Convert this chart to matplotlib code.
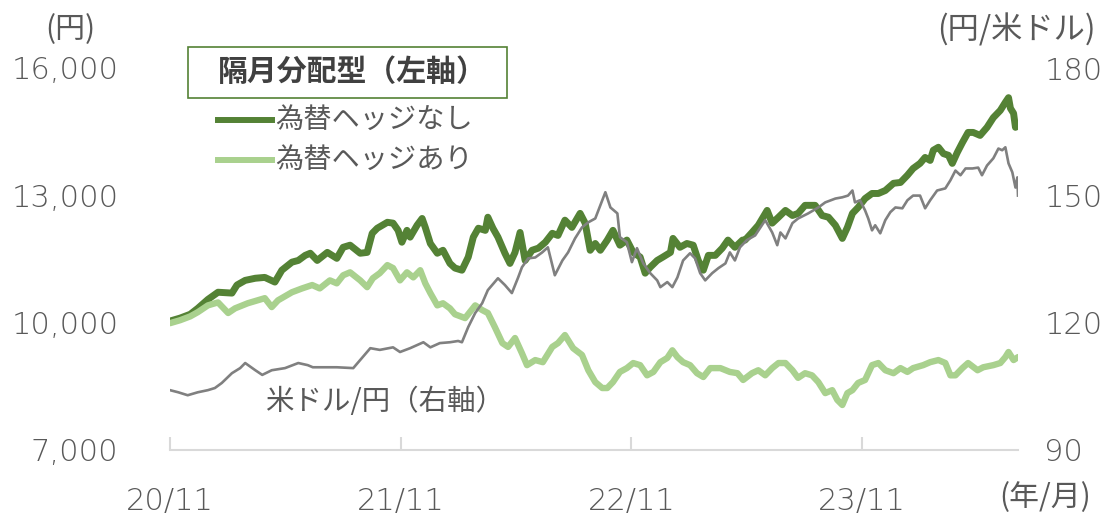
import matplotlib
matplotlib.use("Agg")
import matplotlib.pyplot as plt
from matplotlib.patches import Rectangle
from matplotlib.lines import Line2D

plt.rcParams['font.family'] = ['Noto Sans CJK JP', 'DejaVu Sans']

# ---- data (days since 2020-11-01) ----
x_tick_days = [0, 365, 730, 1095]
x_tick_labels = ["20/11", "21/11", "22/11", "23/11"]
left_ticks = [7000, 10000, 13000, 16000]
right_ticks = [90, 120, 150, 180]

hedge_off_days = [0, 16, 32, 44, 60, 76, 98, 106, 119, 135, 150, 166, 177, 193, 203, 214, 222, 233, 249, 264,
                  274, 285, 301, 312, 320, 328, 344, 353, 361, 367, 375, 380, 391, 399, 404, 412, 423, 432, 443, 451,
                  462, 472, 480, 488, 499, 503, 511, 519, 530, 538, 546, 554, 562, 573, 583, 594, 605, 614, 625, 636,
                  649, 657, 665, 673, 681, 692, 701, 712, 723, 733, 744, 752, 760, 771, 780, 792, 796, 807, 818, 828,
                  836, 844, 852, 863, 874, 883, 894, 906, 910, 921, 931, 945, 953, 963, 974, 985, 994, 1005, 1021, 1032,
                  1042, 1053, 1064, 1072, 1080, 1089, 1100, 1111, 1121, 1132, 1145, 1156, 1167, 1176, 1187, 1195, 1203, 1208, 1216, 1224,
                  1232, 1238, 1246, 1254, 1263, 1271, 1282, 1293, 1303, 1314, 1322, 1327, 1330, 1335, 1338, 1342]
hedge_off_values = [10030, 10100, 10190, 10330, 10540, 10710, 10690, 10880, 10990, 11040, 11060, 10950, 11230, 11420, 11460, 11580, 11630, 11460, 11650, 11510,
                    11770, 11820, 11630, 11650, 12100, 12220, 12360, 12340, 12170, 11890, 12170, 12010, 12290, 12450, 12240, 11860, 11630, 11700, 11390, 11280,
                    11230, 11540, 12010, 12220, 12170, 12480, 12220, 12010, 11630, 11390, 11650, 12120, 11460, 11700, 11750, 11890, 12100, 12050, 12410, 12240,
                    12570, 12340, 11700, 11860, 11700, 11940, 12170, 11820, 11940, 11650, 11540, 11160, 11300, 11460, 11540, 11650, 11980, 11770, 11860, 11820,
                    11460, 11230, 11580, 11580, 11750, 11940, 11770, 11940, 11940, 12120, 12290, 12640, 12340, 12480, 12640, 12520, 12570, 12760, 12760, 12520,
                    12480, 12290, 11980, 12240, 12570, 12710, 12920, 13040, 13040, 13110, 13280, 13300, 13470, 13630, 13750, 13890, 13820, 14060, 14130, 13980,
                    13940, 13750, 14010, 14240, 14480, 14480, 14410, 14600, 14830, 15000, 15190, 15300, 15050, 14930, 14600, 14640]

hedge_on_days = [0, 16, 32, 44, 60, 76, 92, 103, 123, 150, 161, 171, 193, 209, 225, 237, 253, 264, 274, 285,
                 301, 312, 321, 332, 344, 353, 364, 375, 385, 396, 404, 412, 423, 432, 443, 451, 467, 483, 494, 503,
                 514, 526, 535, 546, 557, 565, 578, 590, 605, 614, 625, 638, 652, 662, 673, 684, 692, 701, 712, 723,
                 733, 744, 755, 765, 776, 787, 795, 803, 812, 823, 834, 844, 855, 871, 886, 898, 907, 921, 931, 942,
                 953, 963, 974, 985, 994, 1005, 1016, 1026, 1037, 1048, 1056, 1064, 1072, 1080, 1089, 1100, 1111, 1121, 1132, 1145,
                 1156, 1167, 1176, 1192, 1203, 1216, 1227, 1235, 1243, 1254, 1263, 1278, 1287, 1303, 1314, 1322, 1327, 1335, 1342]
hedge_on_values = [9980, 10050, 10140, 10240, 10400, 10470, 10220, 10330, 10450, 10570, 10360, 10520, 10710, 10800, 10880, 10800, 10990, 10920, 11110, 11180,
                   10990, 10830, 11040, 11160, 11350, 11280, 10990, 11180, 11060, 11230, 10920, 10690, 10400, 10450, 10330, 10190, 10100, 10400, 10290, 10220,
                   9890, 9510, 9420, 9630, 9270, 8990, 9110, 9060, 9420, 9510, 9700, 9390, 9230, 8870, 8590, 8450, 8450, 8590, 8830, 8920,
                   9040, 8990, 8750, 8830, 9060, 9160, 9340, 9180, 9060, 8990, 8800, 8710, 8920, 8920, 8830, 8800, 8640, 8800, 8870, 8750,
                   8920, 9040, 9040, 8870, 8690, 8800, 8750, 8590, 8330, 8400, 8170, 8050, 8330, 8400, 8570, 8640, 8990, 9040, 8870, 8800,
                   8920, 8830, 8920, 8990, 9060, 9110, 9040, 8750, 8750, 8920, 9040, 8870, 8940, 8990, 9040, 9180, 9300, 9110, 9180]

usdjpy_days = [0, 13, 28, 44, 60, 71, 82, 98, 111, 119, 135, 146, 161, 182, 203, 218, 226, 242, 264, 290,
               301, 317, 332, 353, 364, 380, 401, 412, 427, 443, 456, 462, 472, 483, 494, 503, 519, 530, 541, 551,
               557, 567, 578, 589, 598, 609, 621, 630, 641, 652, 662, 673, 681, 689, 697, 708, 712, 723, 731, 739,
               749, 760, 771, 776, 787, 795, 803, 812, 823, 831, 839, 847, 858, 868, 879, 886, 894, 902, 913, 926,
               942, 953, 961, 966, 974, 985, 994, 1010, 1026, 1037, 1053, 1064, 1073, 1080, 1084, 1092, 1100, 1105, 1111, 1116,
               1124, 1132, 1140, 1148, 1159, 1167, 1176, 1187, 1195, 1203, 1214, 1227, 1235, 1243, 1251, 1259, 1270, 1279, 1285, 1293,
               1303, 1311, 1317, 1322, 1327, 1333, 1338, 1341, 1342]
usdjpy_values = [104.0, 103.5, 102.8, 103.5, 104.0, 104.5, 105.7, 108.0, 109.2, 110.4, 108.7, 107.6, 108.7, 109.2, 110.4, 109.9, 109.4, 109.4, 109.4, 109.2,
                 111.1, 113.9, 113.5, 114.1, 113.0, 113.9, 115.3, 114.1, 115.1, 115.3, 115.6, 115.3, 118.9, 122.2, 124.5, 127.6, 130.4, 128.8, 126.9, 130.6,
                 133.0, 135.1, 135.3, 136.5, 137.7, 131.1, 134.6, 136.5, 139.8, 142.4, 143.6, 144.5, 147.6, 150.7, 147.1, 145.7, 140.1, 138.9, 134.2, 137.5,
                 133.9, 131.6, 129.9, 128.3, 129.5, 128.3, 130.6, 134.6, 136.3, 135.1, 131.6, 129.9, 131.6, 132.8, 133.9, 136.5, 134.6, 137.7, 139.4, 140.5,
                 144.1, 141.2, 138.2, 141.2, 139.8, 143.4, 144.5, 145.7, 147.1, 148.3, 149.2, 149.5, 149.9, 151.1, 148.3, 148.8, 146.4, 144.5, 141.7, 142.9,
                 141.0, 144.1, 146.0, 147.1, 146.9, 148.8, 149.9, 149.9, 146.9, 148.8, 151.1, 151.6, 153.5, 155.8, 154.7, 156.3, 156.3, 156.5, 154.7, 157.0,
                 158.7, 161.0, 160.6, 161.3, 157.5, 155.4, 151.8, 154.2, 149.9]

DARK = "#548235"
LIGHT = "#a9d18e"
GRAY = "#808080"
TXT = "#595959"
AX = "#d9d9d9"
NUMFONT = ['DejaVu Sans']

W, H = 1115, 515
fig = plt.figure(figsize=(W / 100, H / 100), dpi=100)

def fx(px):
    return px / W

def fy(py):
    return 1 - py / H

ax = fig.add_axes([fx(170), fy(449.5), fx(1018) - fx(170), fy(68) - fy(449.5)])
ax.plot(hedge_off_days, hedge_off_values, color=DARK, lw=5.0, solid_joinstyle='round',
        solid_capstyle='round', zorder=2)
ax.plot(hedge_on_days, hedge_on_values, color=LIGHT, lw=4.6, solid_joinstyle='round',
        solid_capstyle='round', zorder=3)
ax.set_xlim(0, hedge_off_days[-1])
ax.set_ylim(7000, 16000)
ax.set_yticks(left_ticks)
ax.set_yticklabels([f"{v:,}" for v in left_ticks])
ax.set_xticks(x_tick_days)
ax.set_xticklabels(x_tick_labels)

ax2 = ax.twinx()
ax2.plot(usdjpy_days, usdjpy_values, color=GRAY, lw=1.9, zorder=4)
ax2.set_ylim(90, 180)
ax2.set_yticks(right_ticks)
ax2.set_yticklabels([str(v) for v in right_ticks])

for a in (ax, ax2):
    for s in ("top", "left", "right"):
        a.spines[s].set_visible(False)
    a.spines["bottom"].set_visible(a is ax)
    a.patch.set_visible(False)
ax.spines["bottom"].set_color(AX)
ax.spines["bottom"].set_linewidth(1.5)
ax.tick_params(axis='x', direction='in', length=9.5, width=1.5, color=AX, pad=27,
               labelsize=22, labelcolor=TXT)
ax.tick_params(axis='y', length=0, pad=37, labelsize=22, labelcolor=TXT)
ax2.tick_params(axis='y', length=0, pad=19, labelsize=22, labelcolor=TXT)
for lab in ax.get_xticklabels() + ax.get_yticklabels() + ax2.get_yticklabels():
    lab.set_family(NUMFONT)
    lab.set_fontweight('light')

# axis unit labels
fig.text(fx(70), fy(30), "(円)", ha='center', va='center', fontsize=21.5, color=TXT)
fig.text(fx(1096), fy(30), "(円/米ドル)", ha='right', va='center', fontsize=22.5, color=TXT)
fig.text(fx(1045), fy(498), "(年/月)", ha='center', va='center', fontsize=21.5, color=TXT)

# legend (manual)
fig.patches.append(Rectangle((fx(188), fy(98)), fx(507) - fx(188), fy(47) - fy(98),
                             transform=fig.transFigure, fill=False, edgecolor=DARK, lw=1.2))
fig.text(fx(218), fy(72), "隔月分配型（左軸）", ha='left', va='center', fontsize=21.5,
         fontweight='bold', color="#404040")
fig.lines.append(Line2D([fx(218), fx(272)], [fy(120), fy(120)], transform=fig.transFigure,
                        color=DARK, lw=4.3))
fig.text(fx(275), fy(120), "為替ヘッジなし", ha='left', va='center', fontsize=20.3, color=TXT)
fig.lines.append(Line2D([fx(218), fx(272)], [fy(160), fy(160)], transform=fig.transFigure,
                        color=LIGHT, lw=4.3))
fig.text(fx(275), fy(160), "為替ヘッジあり", ha='left', va='center', fontsize=20.3, color=TXT)

fig.text(fx(265), fy(402), "米ドル/円（右軸）", ha='left', va='center', fontsize=20.5, color=TXT)

fig.savefig("out.png", dpi=100)
